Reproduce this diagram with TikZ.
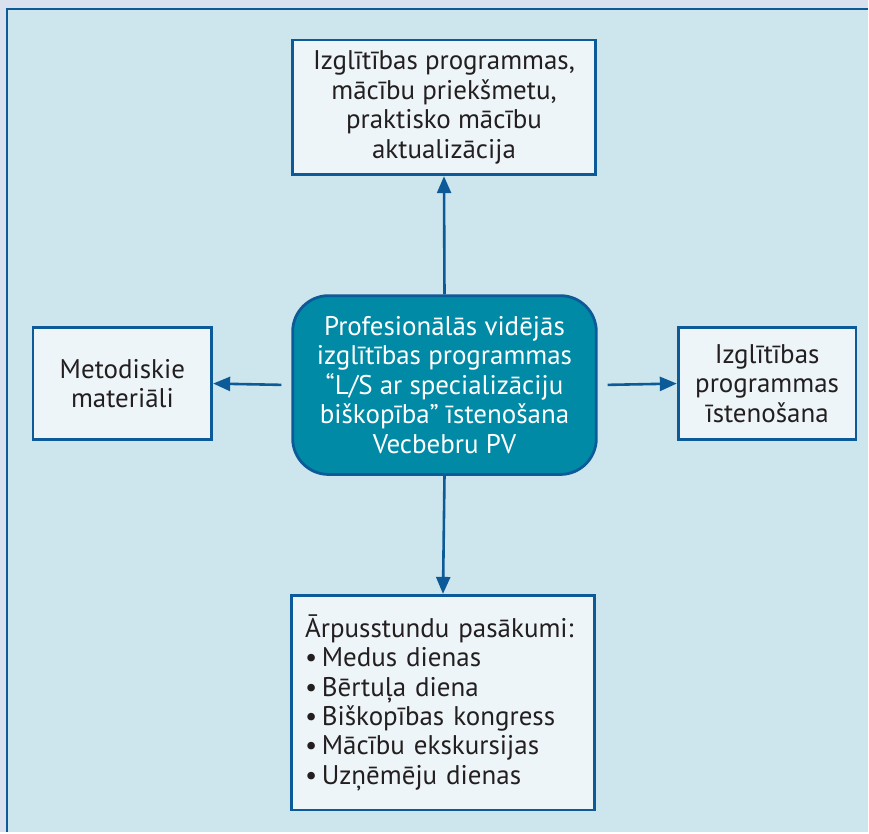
\documentclass[tikz,border=0pt]{standalone}
\usepackage{fontspec}
\setmainfont{PT Sans}
\usetikzlibrary{arrows.meta}
\usetikzlibrary{positioning}

\definecolor{pagebg}{HTML}{D9E0EE}
\definecolor{panelbg}{HTML}{CDE6ED}
\definecolor{boxbg}{HTML}{EEF5F8}
\definecolor{darkblue}{HTML}{0D5A98}
\definecolor{teal}{HTML}{008AA6}
\definecolor{textdark}{HTML}{231F20}

\newcommand{\itembul}{•\,}

\begin{document}
\begin{tikzpicture}[
    x=1pt, y=-1pt,
    arrowtip/.style={
      draw=darkblue, line width=2.6pt,
      -{Triangle[length=17pt,width=14pt]}
    },
    textbox/.style={
      draw=darkblue, line width=2.8pt, fill=boxbg,
      text=textdark, align=center, inner sep=0pt,
      font=\fontsize{27}{29.5}\selectfont
    },
    mainbox/.style={
      draw=darkblue, line width=2.8pt, fill=teal,
      rounded corners=36pt, text=white, align=center, inner sep=0pt,
      font=\fontsize{27}{29.5}\selectfont
    }
  ]
    % background and panel
    \fill[pagebg] (0,0) rectangle (869,833);
    \fill[panelbg] (7,9) rectangle (869,833);
    \draw[darkblue, line width=2pt] (7,833) -- (7,9) -- (869,9);
    \useasboundingbox (0,0) rectangle (869,833);

    \coordinate (MM) at (445,385.5);
    \coordinate (TT) at (444.5,107.5);
    \coordinate (LL) at (122.5,384);
    \coordinate (RR) at (768,384);
    \coordinate (BB) at (443.5,703.5);

    \node[mainbox, minimum width=304pt, minimum height=179pt] (MMT) at (MM)
      {Profesionālās vidējās\\izglītības programmas\\“L/S ar specializāciju\\biškopība” īstenošana\\Vecbebru PV};

    \node[textbox, minimum width=303pt, minimum height=135pt] (TTT) at (TT)
      {Izglītības programmas,\\mācību priekšmetu,\\praktisko mācību\\aktualizācija};

    \node[textbox, minimum width=179pt, minimum height=112pt] (LLT) at (LL)
      {Metodiskie\\materiāli};

    \node[textbox, minimum width=178pt, minimum height=112pt] (RRT) at (RR)
      {Izglītības\\programmas\\īstenošana};

    \node[textbox, minimum width=303pt, minimum height=215pt,
          align=left, text width=276pt] (BBT) at (BB)
      {Ārpusstundu pasākumi:\\\itembul Medus dienas\\\itembul Bērtuļa diena\\\itembul Biškopības kongress\\\itembul Mācību ekskursijas\\\itembul Uzņēmēju dienas};

    \draw[arrowtip] (MMT.north) to (TTT.south);
    \draw[arrowtip] (MMT.south) to (BBT.north);
    \draw[arrowtip, shorten <=10pt] (MMT.west) to (LLT.east);
    \draw[arrowtip, shorten <=10pt] (MMT.east) to (RRT.west);
\end{tikzpicture}
\end{document}
